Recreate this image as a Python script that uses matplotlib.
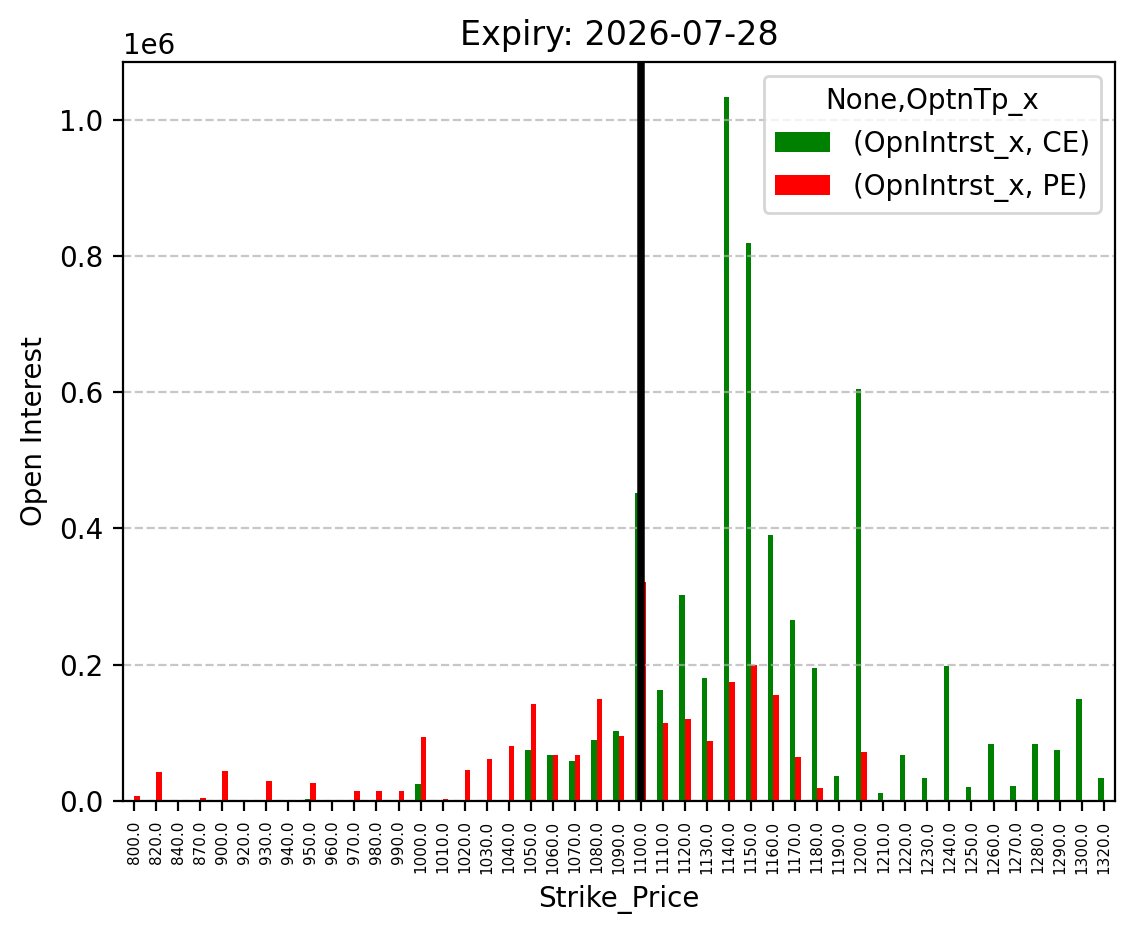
import matplotlib
matplotlib.use("Agg")
import matplotlib.pyplot as plt
import pandas as pd
import numpy as np

strikes = [800, 820, 840, 870, 900, 920, 930, 940, 950, 960, 970, 980, 990,
           1000, 1010, 1020, 1030, 1040, 1050, 1060, 1070, 1080, 1090, 1100,
           1110, 1120, 1130, 1140, 1150, 1160, 1170, 1180, 1190, 1200, 1210,
           1220, 1230, 1240, 1250, 1260, 1270, 1280, 1290, 1300, 1320]

ce_oi = [0, 0, 0, 0, 1500, 0, 0, 0, 3500, 0, 0, 0, 0,
         25000, 0, 0, 2000, 0, 75000, 67000, 58000, 89000, 103000, 452000,
         163000, 302000, 180000, 1033000, 819000, 391000, 265000, 195000, 37000, 604000, 12000,
         68000, 34000, 198000, 20000, 84000, 22000, 84000, 75000, 150000, 34000]

pe_oi = [8000, 42000, 2000, 5000, 43500, 0, 30000, 0, 27000, 0, 15000, 15000, 15000,
         94500, 3500, 45000, 62000, 80000, 143000, 68000, 68000, 149000, 96000, 322000,
         114000, 120000, 88000, 175000, 199000, 155000, 64000, 19000, 0, 72000, 0,
         0, 0, 0, 0, 0, 0, 0, 0, 0, 0]

spot_strike = 1100
expiry = "2026-07-28"

cols = pd.MultiIndex.from_tuples([("OpnIntrst_x", "CE"), ("OpnIntrst_x", "PE")],
                                 names=[None, "OptnTp_x"])
df = pd.DataFrame(np.column_stack([ce_oi, pe_oi]),
                  index=pd.Index([float(s) for s in strikes], name="Strike_Price"),
                  columns=cols)

fig, ax = plt.subplots(figsize=(5.67, 4.695), dpi=200)
df.plot(kind="bar", ax=ax, color=["green", "red"])
ax.axvline(x=strikes.index(spot_strike), color="black", linewidth=2.7)
ax.set_title(f"Expiry: {expiry}")
ax.set_ylabel("Open Interest")
ax.set_xlabel("Strike_Price")
ax.tick_params(axis="x", labelsize=5.5)
ax.grid(axis="y", linestyle="--", alpha=0.7)
fig.subplots_adjust(left=0.1085, right=0.983, top=0.934, bottom=0.147)
fig.savefig("out.png", dpi=200)
